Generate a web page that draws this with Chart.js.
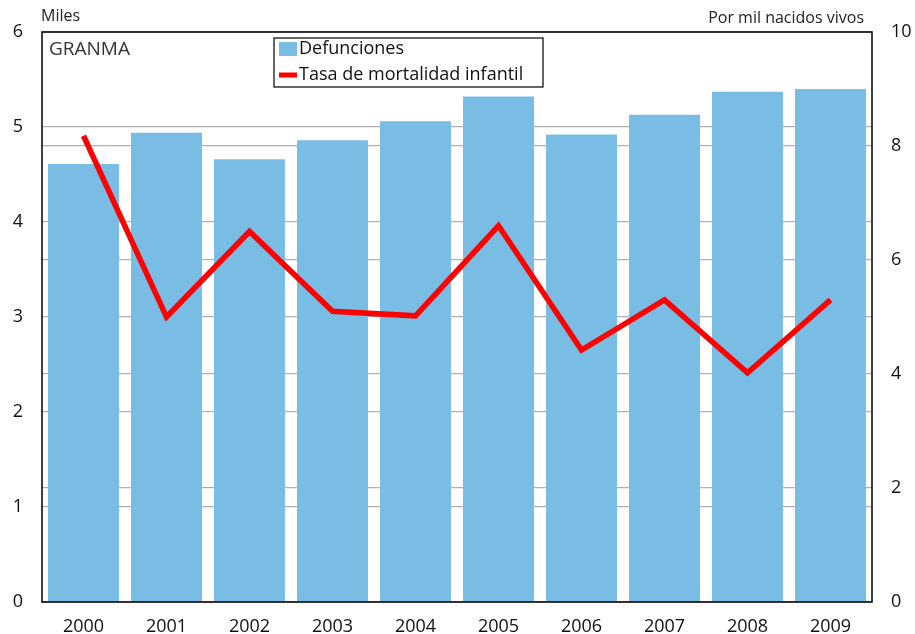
<!DOCTYPE html>
<html>
<head>
<meta charset="utf-8">
<script src="https://cdn.jsdelivr.net/npm/chart.js@4"></script>
<style>
html,body{margin:0;padding:0;background:#fff;}
#wrap{width:915px;height:634px;position:relative;}
</style>
</head>
<body>
<div id="wrap"><canvas id="c" width="915" height="634"></canvas></div>
<script>
const categories = ['2000','2001','2002','2003','2004','2005','2006','2007','2008','2009'];
const defunciones = [4.61, 4.94, 4.66, 4.86, 5.06, 5.32, 4.92, 5.13, 5.37, 5.40];
const tasaMortalidad = [8.18, 5.0, 6.5, 5.1, 5.02, 6.6, 4.42, 5.3, 4.02, 5.3];
const leftTicks = [0, 1, 2, 3, 4, 5, 6];
const rightTicks = [0, 2, 4, 6, 8, 10];
const leftUnit = 'Miles';
const rightUnit = 'Por mil nacidos vivos';
const regionName = 'GRANMA';

const FONT = "'Open Sans', 'Noto Sans', sans-serif";
const BAR_COLOR = '#79BDE5';
const LINE_COLOR = '#FF0000';
const GRID_COLOR = '#b0b0b0';

const decorPlugin = {
  id: 'decor',
  afterDatasetsDraw(chart) {
    const ctx = chart.ctx;
    const a = chart.chartArea;
    ctx.save();
    ctx.strokeStyle = '#000';
    ctx.lineWidth = 1.5;
    ctx.strokeRect(a.left, a.top, a.right - a.left, a.bottom - a.top);
    ctx.fillStyle = '#222';
    ctx.textBaseline = 'middle';
    ctx.font = '16px ' + FONT;
    ctx.textAlign = 'left';
    ctx.fillText(leftUnit, 41, 16);
    ctx.textAlign = 'right';
    ctx.fillText(rightUnit, 864, 18);
    ctx.font = '19px ' + FONT;
    ctx.textAlign = 'left';
    ctx.fillStyle = '#333';
    ctx.fillText(regionName, 49, 50);
    // legend
    const lx = 274, ly = 38, lw = 269, lh = 49;
    ctx.fillStyle = '#fff';
    ctx.fillRect(lx, ly, lw, lh);
    ctx.strokeStyle = '#000';
    ctx.lineWidth = 1.2;
    ctx.strokeRect(lx, ly, lw, lh);
    const ds = chart.data.datasets;
    ctx.font = '18px ' + FONT;
    ctx.textAlign = 'left';
    ctx.fillStyle = BAR_COLOR;
    ctx.fillRect(279, 42, 18, 14);
    ctx.fillStyle = '#111';
    ctx.fillText(ds[1].label, 299, 49);
    ctx.fillStyle = LINE_COLOR;
    ctx.fillRect(279, 72.5, 18, 5);
    ctx.fillStyle = '#111';
    ctx.fillText(ds[0].label, 299, 75);
    ctx.restore();
  }
};

new Chart(document.getElementById('c'), {
  type: 'bar',
  data: {
    labels: categories,
    datasets: [
      {
        type: 'line',
        label: 'Tasa de mortalidad infantil',
        data: tasaMortalidad,
        yAxisID: 'y2',
        borderColor: LINE_COLOR,
        backgroundColor: LINE_COLOR,
        borderWidth: 5.5,
        pointRadius: 0,
        tension: 0,
        fill: false,
        order: 0
      },
      {
        type: 'bar',
        label: 'Defunciones',
        data: defunciones,
        yAxisID: 'y',
        backgroundColor: BAR_COLOR,
        borderWidth: 0,
        categoryPercentage: 1.0,
        barPercentage: 0.855,
        order: 1
      }
    ]
  },
  options: {
    responsive: false,
    animation: false,
    layout: { padding: { top: 32, left: 0, right: 0, bottom: 0 } },
    plugins: { legend: { display: false }, tooltip: { enabled: false } },
    scales: {
      x: {
        grid: { display: false },
        border: { display: false },
        ticks: { color: '#111', font: { family: FONT, size: 18 }, padding: 6, maxRotation: 0 },
        afterFit(s) { s.height = 32; }
      },
      y: {
        position: 'left',
        min: 0, max: 6,
        afterBuildTicks(s) { s.ticks = leftTicks.map(v => ({ value: v })); },
        grid: { color: GRID_COLOR, lineWidth: 1.2, drawTicks: false },
        border: { display: false },
        ticks: { color: '#111', font: { family: FONT, size: 18 }, padding: 19 },
        afterFit(s) { s.width = 42; }
      },
      y2: {
        position: 'right',
        min: 0, max: 10,
        afterBuildTicks(s) { s.ticks = rightTicks.map(v => ({ value: v })); },
        grid: { color: GRID_COLOR, lineWidth: 1.2, drawTicks: false },
        border: { display: false },
        ticks: { color: '#111', font: { family: FONT, size: 18 }, padding: 19 },
        afterFit(s) { s.width = 43; }
      }
    }
  },
  plugins: [decorPlugin]
});
</script>
</body>
</html>
